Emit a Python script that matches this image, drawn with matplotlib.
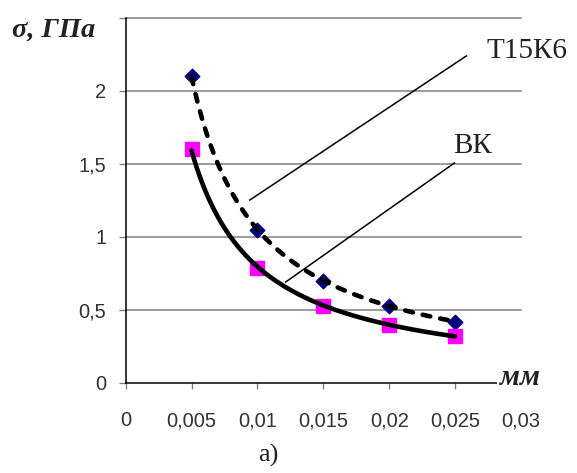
import numpy as np
import matplotlib
matplotlib.use("Agg")
import matplotlib.pyplot as plt

# --- data --- #
depth = [0.005, 0.01, 0.015, 0.02, 0.025]
sigma_t15k6 = [2.1, 1.05, 0.7, 0.53, 0.42]
sigma_vk = [1.6, 0.79, 0.53, 0.4, 0.32]
x_ticks = [0, 0.005, 0.01, 0.015, 0.02, 0.025, 0.03]
x_labels = ["0", "0,005", "0,01", "0,015", "0,02", "0,025", "0,03"]
y_ticks = [0, 0.5, 1, 1.5, 2, 2.5]
y_labels = ["0", "0,5", "1", "1,5", "2", ""]


def power_fit(x, y):
    # Excel style power trendline y = a * x^b
    b, ln_a = np.polyfit(np.log(x), np.log(y), 1)
    xs = np.linspace(min(x), max(x), 200)
    return xs, np.exp(ln_a) * xs ** b


fig = plt.figure(figsize=(5.77, 4.73), dpi=100)
ax = fig.add_axes([0.2177, 0.1903, 0.903 - 0.2177, 0.962 - 0.1903])
ax.set_xlim(0, 0.03)
ax.set_ylim(0, 2.5)

# grid
for yv in y_ticks[1:]:
    ax.axhline(yv, color="#808080", lw=1.1, zorder=0, clip_on=False)

# markers
ax.scatter(depth, sigma_t15k6, marker="D", s=55, color="#000080", zorder=2)
ax.scatter(depth, sigma_vk, marker="s", s=110, color="#FF00FF", zorder=2)

# trendlines
xs, ys = power_fit(depth, sigma_t15k6)
ax.plot(xs, ys, color="black", lw=3.3, ls=(0, (1.7, 2.2)),
        dash_capstyle="round", zorder=3)
xs, ys = power_fit(depth, sigma_vk)
ax.plot(xs, ys, color="black", lw=3.3, solid_capstyle="round", zorder=3)

# leader lines and labels
ax.plot([0.00942, 0.02585], [1.253, 2.24], color="black", lw=1.1, zorder=4)
ax.plot([0.01215, 0.02495], [0.692, 1.507], color="black", lw=1.1, zorder=4)
ax.text(0.02738, 2.226, "Т15К6", family="Liberation Serif", fontsize=21,
        va="baseline", ha="left", color="#222222")
ax.text(0.02488, 1.575, "ВК", family="Liberation Serif", fontsize=21,
        va="baseline", ha="left", color="#222222")

# axes styling
for s in ["top", "right"]:
    ax.spines[s].set_visible(False)
ax.spines["left"].set_linewidth(1.1)
ax.spines["bottom"].set_linewidth(1.1)
ax.set_xticks(x_ticks)
ax.set_xticklabels(x_labels, family="Liberation Sans", fontsize=14.5, color="#333333")
ax.set_yticks(y_ticks)
ax.set_yticklabels(y_labels, family="Liberation Sans", fontsize=14.5, color="#333333")
ax.tick_params(axis="x", direction="out", length=4.5, width=1, color="#808080", pad=16)
ax.tick_params(axis="y", direction="out", length=5, width=1, color="#808080", pad=9)

fig.text(0.021, 0.922, "σ, ГПа", family="Liberation Serif", fontsize=20.5,
         fontweight="bold", fontstyle="italic", va="baseline", ha="left",
         color="#222222")
ax.text(0.0284, -0.012, "мм", family="Liberation Serif", fontsize=21,
        fontweight="bold", fontstyle="italic", va="baseline", ha="left",
        color="#222222",
        bbox=dict(facecolor="white", edgecolor="none", pad=2))
fig.text(0.465, 0.037, "а)", family="Liberation Serif", fontsize=19,
         va="center", ha="center", color="#222222")

fig.savefig("out.png", dpi=100)
